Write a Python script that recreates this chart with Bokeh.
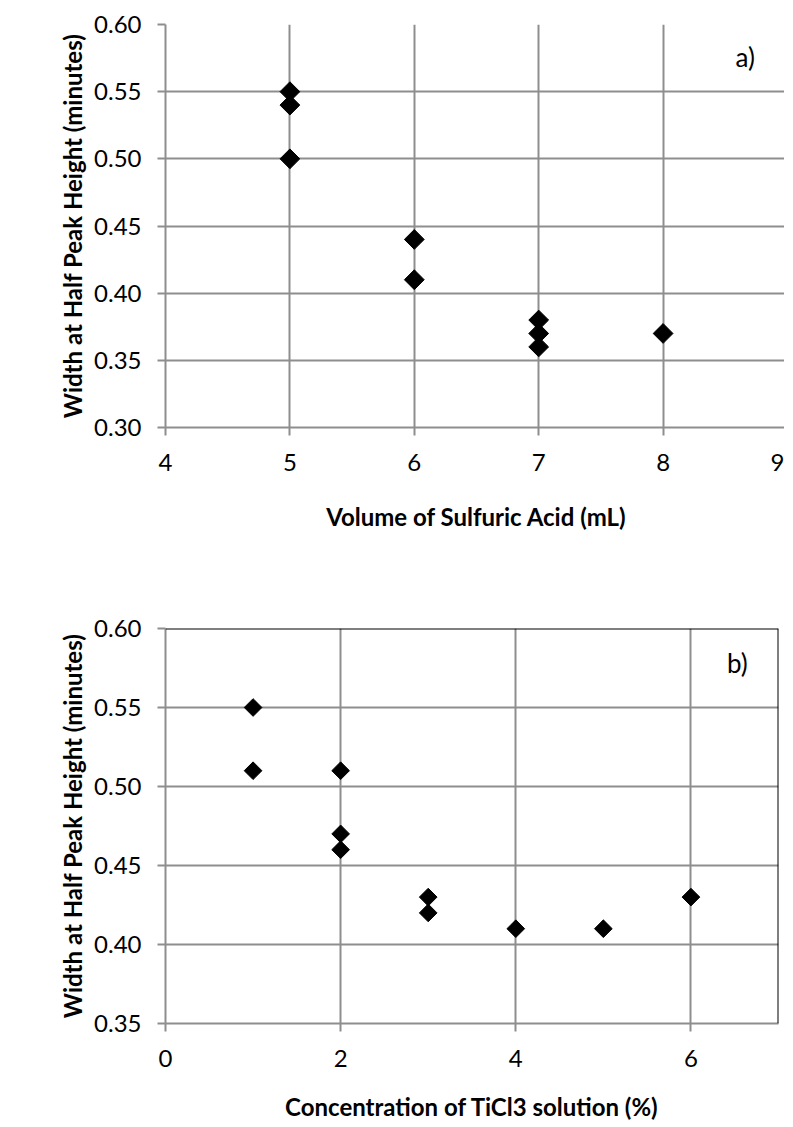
import math
from bokeh.plotting import figure
from bokeh.layouts import column
from bokeh.models import Range1d, FixedTicker, NumeralTickFormatter, Label, Span
from bokeh.embed import file_html
from bokeh.resources import INLINE

# ---- data: panel a) ----
vol_acid = [5, 5, 5, 6, 6, 7, 7, 7, 8]
width_a = [0.55, 0.54, 0.50, 0.44, 0.41, 0.38, 0.37, 0.36, 0.37]
xticks_a = [4, 5, 6, 7, 8, 9]
yticks_a = [0.30, 0.35, 0.40, 0.45, 0.50, 0.55, 0.60]

# ---- data: panel b) ----
conc_ticl3 = [1, 1, 2, 2, 2, 3, 3, 4, 5, 6]
width_b = [0.55, 0.51, 0.51, 0.47, 0.46, 0.43, 0.42, 0.41, 0.41, 0.43]
xticks_b = [0, 2, 4, 6]
yticks_b = [0.35, 0.40, 0.45, 0.50, 0.55, 0.60]

GRID = "#8e8e8e"
FONT = "Lato"
YTITLE = "Width at Half Peak Height (minutes)"


def style(p, xt, yt, tick_size, title_size):
    p.xaxis.ticker = FixedTicker(ticks=xt)
    p.yaxis.ticker = FixedTicker(ticks=yt)
    p.xgrid.ticker = FixedTicker(ticks=xt)
    p.ygrid.ticker = FixedTicker(ticks=yt)
    p.yaxis.formatter = NumeralTickFormatter(format="0.00")
    for g in (p.xgrid, p.ygrid):
        g.grid_line_color = GRID
        g.grid_line_width = 2
    for ax in (p.xaxis, p.yaxis):
        ax.axis_line_color = GRID
        ax.axis_line_width = 2
        ax.major_tick_line_color = GRID
        ax.major_tick_line_width = 2
        ax.major_tick_out = 8
        ax.major_tick_in = 0
        ax.minor_tick_line_color = None
        ax.major_label_text_font = FONT
        ax.major_label_text_font_size = f"{tick_size}px"
        ax.major_label_text_color = "black"
        ax.axis_label_text_font = FONT
        ax.axis_label_text_font_style = "bold"
        ax.axis_label_text_font_size = f"{title_size}px"
        ax.axis_label_text_color = "black"
    p.yaxis.major_label_standoff = 16
    p.xaxis.major_label_standoff = 18
    p.yaxis.axis_label_standoff = 4
    p.xaxis.axis_label_standoff = 28
    p.outline_line_color = None
    p.background_fill_color = "white"
    p.border_fill_color = "white"


# ---- panel a ----
p1 = figure(frame_width=622, frame_height=403, output_backend="svg", toolbar_location=None,
            x_range=Range1d(4, 9), y_range=Range1d(0.30, 0.60),
            min_border_left=158, min_border_right=4, min_border_top=24, min_border_bottom=100,
            x_axis_label="Volume of Sulfuric Acid (mL)", y_axis_label=YTITLE)
style(p1, xticks_a, yticks_a, 24, 24)
p1.scatter(x=vol_acid, y=width_a, marker="square", angle=math.pi / 4, size=14,
           fill_color="black", line_color="black")
p1.add_layout(Label(x=8.66, y=0.576, text="a)", text_align="center", text_baseline="middle",
                    text_font=FONT, text_font_size="26px", text_color="black"))

# ---- panel b ----
p2 = figure(frame_width=613, frame_height=395, output_backend="svg", toolbar_location=None,
            x_range=Range1d(0, 7), y_range=Range1d(0.35, 0.60),
            min_border_left=165, min_border_right=4, min_border_top=95, min_border_bottom=90,
            x_axis_label="Concentration of TiCl3 solution (%)", y_axis_label=YTITLE)
style(p2, xticks_b, yticks_b, 24, 24)
p2.xaxis.axis_label_standoff = 22
p2.add_layout(Span(location=0.60, dimension="width", line_color="black", line_width=2))
p2.add_layout(Span(location=7, dimension="height", line_color="black", line_width=2))
p2.scatter(x=conc_ticl3, y=width_b, marker="square", angle=math.pi / 4, size=12.5,
           fill_color="black", line_color="black")
p2.add_layout(Label(x=6.53, y=0.578, text="b)", text_align="center", text_baseline="middle",
                    text_font=FONT, text_font_size="26px", text_color="black"))

layout = column(p1, p2, spacing=0)
open("out.html", "w").write(file_html(layout, INLINE))
